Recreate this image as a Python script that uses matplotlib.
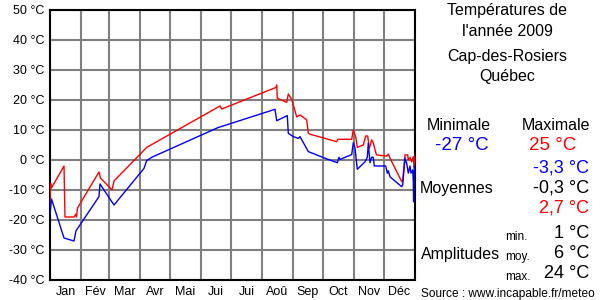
import matplotlib
matplotlib.use("Agg")
import matplotlib.pyplot as plt

plt.rcParams['font.family'] = ['Liberation Sans', 'DejaVu Sans']

# jour de l'année / température maximale
max_days = [0, 0.5, 1.5, 14, 14.5, 15, 24, 26, 26.5, 27.5, 49, 50.5, 62, 64, 96.7,
            170, 171.7, 226, 226.7, 227.3, 236.7, 238.3, 241.7, 246.7, 250, 256.7,
            258.3, 260, 286.7, 288, 301.7, 303.3, 305, 306, 307.3, 313.3, 315.7,
            317.7, 319.3, 321.7, 323.3, 326, 326.7, 336.7, 338.3, 340, 351.7, 352.7,
            355, 357.7, 358.3, 360, 361.7, 363.3, 364, 365]
max_temp = [-15.5, -7.7, -9.3, -2, -10.5, -19, -19, -18, -19, -16, -4, -6, -10, -7, 4.2,
            18, 17, 24.2, 25, 20.6, 19.2, 22, 20.2, 14.4, 15, 13.4,
            8.9, 8.6, 6.1, 6.9, 6.9, 10, 8.3, 7.2, 4.2, 5, 8,
            8, 3.9, 6.7, 5.6, 2.2, 1.7, 1.3, 2, 0.6, -7.2, -6.7,
            1.7, 1.7, 0, 0.9, -0.6, 1.1, -2.2, 1.7]

# jour de l'année / température minimale
min_days = [0, 1.5, 14, 24, 26, 49, 50, 64, 94, 96.7, 101.7, 168, 225, 226.7, 237.3,
            238.3, 243.3, 248.3, 250, 258.3, 275, 287.3, 289, 290, 301.7, 303.3, 305,
            307.3, 315, 317.3, 318.3, 320, 321.7, 323.3, 324.3, 335.7, 337.3, 338.3,
            340, 351.7, 352.7, 355, 356.7, 358.3, 360, 361, 362.7, 363.3, 363.6, 364.3, 365]
min_temp = [-18, -13, -26, -27, -23.6, -12.2, -8, -15, -2.8, -0.2, 0.9, 10.8, 16.9, 13.1, 14.8,
            8.9, 7.8, 7.2, 7.8, 2.8, 0.6, -0.9, 0.9, 0.2, 1.8, 5.8, 4,
            -3.1, -0.6, 0.9, 5.6, -0.9, 0.9, 0.9, -2, -2, -4.4, -3.6,
            -5.6, -8.9, -8.3, 0.6, -1.1, -4.4, -2, -4.4, -3.3, -7.2, -13.9, -2, -3]

month_starts = [0, 31, 59, 90, 120, 151, 181, 212, 243, 273, 304, 334, 365]
month_names = ['Jan', 'Fév', 'Mar', 'Avr', 'Mai', 'Jui', 'Jui', 'Aoû', 'Sep', 'Oct', 'Nov', 'Déc']
y_ticks = [-40, -30, -20, -10, 0, 10, 20, 30, 40, 50]

fig = plt.figure(figsize=(6, 3), dpi=100)
ax = fig.add_axes([50 / 600, 20 / 300, 365 / 600, 270 / 300])

for d in month_starts:
    ax.axvline(d, color='#808080', lw=1.5, zorder=1)
for t in y_ticks:
    ax.axhline(t, color='#808080', lw=1.5, zorder=1)

ax.plot(max_days, max_temp, color='#ff0000', lw=1, zorder=3)
ax.plot(min_days, min_temp, color='#0000ff', lw=1, zorder=3)

ax.set_xlim(0, 365)
ax.set_ylim(-40, 50)
ax.set_yticks(y_ticks)
ax.set_yticklabels(['%d °C' % t for t in y_ticks], fontsize=9)
mids = [(month_starts[i] + month_starts[i + 1]) / 2 for i in range(12)]
ax.set_xticks(mids)
ax.set_xticklabels(month_names, fontsize=9)
ax.tick_params(length=0, pad=4)
for s in ax.spines.values():
    s.set_color('black')
    s.set_linewidth(1.5)

# panneau de droite
def t(x, y, s, **kw):
    fig.text(x / 600, 1 - y / 300, s, va='center', **kw)

t(507, 10, 'Températures de', ha='center', fontsize=11.5)
t(507, 31, "l'année 2009", ha='center', fontsize=11.5)
t(507, 57, 'Cap-des-Rosiers', ha='center', fontsize=11.5)
t(507, 77, 'Québec', ha='center', fontsize=11.5)
t(459, 125, 'Minimale', ha='center', fontsize=11.5)
t(556, 125, 'Maximale', ha='center', fontsize=11.5)
t(462, 145, '-27 °C', ha='center', fontsize=13.5, color='#0000ff')
t(553, 145, '25 °C', ha='center', fontsize=13.5, color='#ff0000')
t(589, 168, '-3,3 °C', ha='right', fontsize=13, color='#0000ff')
t(420, 189, 'Moyennes', ha='left', fontsize=11.5)
t(589, 188, '-0,3 °C', ha='right', fontsize=13, color='black')
t(589, 208, '2,7 °C', ha='right', fontsize=13, color='#ff0000')
t(505, 237, 'min.', ha='left', fontsize=8.5)
t(589, 234, '1 °C', ha='right', fontsize=13)
t(421, 255, 'Amplitudes', ha='left', fontsize=11.5)
t(505, 257, 'moy.', ha='left', fontsize=8.5)
t(589, 254, '6 °C', ha='right', fontsize=13)
t(505, 277, 'max.', ha='left', fontsize=8.5)
t(589, 274, '24 °C', ha='right', fontsize=13)
t(421, 294, 'Source : www.incapable.fr/meteo', ha='left', fontsize=8.6)

fig.savefig('out.png', dpi=100)
